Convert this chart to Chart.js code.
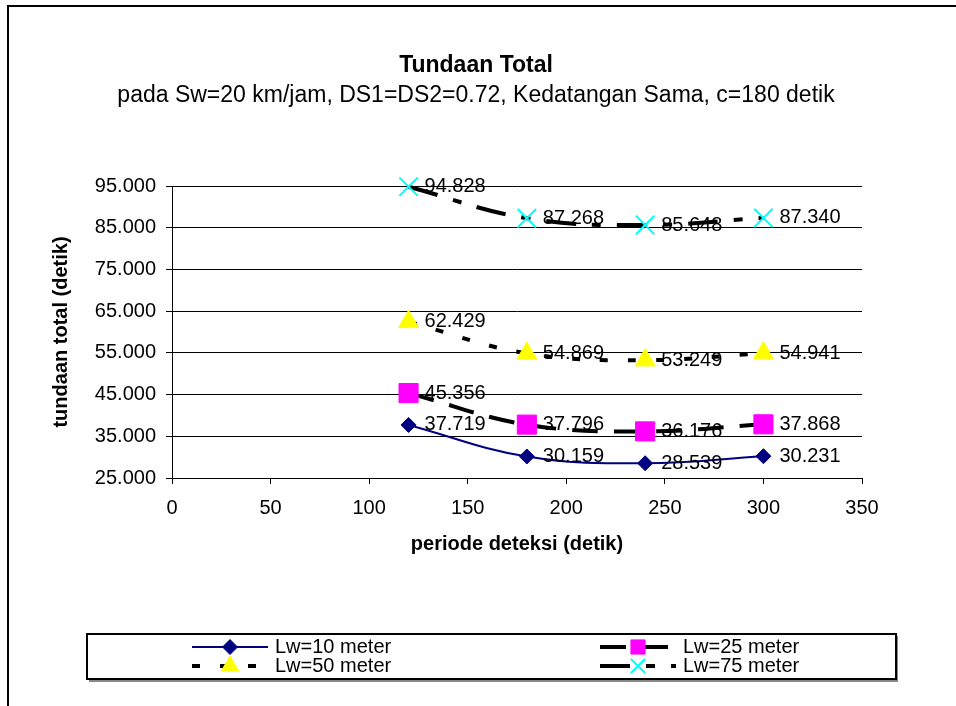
<!DOCTYPE html>
<html>
<head>
<meta charset="utf-8">
<script src="https://cdn.jsdelivr.net/npm/chart.js@4.4.1/dist/chart.umd.min.js"></script>
<style>
    html, body { margin: 0; padding: 0; background: #fff; }
</style>
</head>
<body>
<canvas id="myChart" width="956" height="706"></canvas>
<script>
// data
var periods = [120, 180, 240, 300];
var lw10 = [37.719, 30.159, 28.539, 30.231];
var lw25 = [45.356, 37.796, 36.176, 37.868];
var lw50 = [62.429, 54.869, 53.249, 54.941];
var lw75 = [94.828, 87.268, 85.648, 87.340];
var seriesNames = ['Lw=10 meter', 'Lw=25 meter', 'Lw=50 meter', 'Lw=75 meter'];
var yTicks = [25, 35, 45, 55, 65, 75, 85, 95];
var xTicks = [0, 50, 100, 150, 200, 250, 300, 350];

var titleText = 'Tundaan Total';
var subtitleText = 'pada Sw=20 km/jam, DS1=DS2=0.72, Kedatangan Sama, c=180 detik';

var fontName = '"Liberation Sans", Arial, sans-serif';
Chart.defaults.font.family = fontName;
Chart.defaults.color = '#000';

// Makes the x/y pairs for a scatter dataset
function toPoints(values) {
    return periods.map(function (p, i) {
        return { x: p, y: values[i] };
    });
}

var datasets = [
    {
        label: seriesNames[0],
        data: toPoints(lw10),
        showLine: true,
        clip: false,
        borderColor: '#000080',
        backgroundColor: '#000080',
        borderWidth: 2,
        pointStyle: 'rectRot',
        pointRadius: 7.5,
        pointBorderWidth: 1,
        tension: 0.4
    },
    {
        label: seriesNames[1],
        data: toPoints(lw25),
        showLine: true,
        clip: false,
        borderColor: '#000',
        borderWidth: 4,
        borderDash: [26, 16],
        pointStyle: 'rect',
        pointRadius: 13.5,
        pointBackgroundColor: '#ff00ff',
        pointBorderColor: '#ff00ff',
        pointBorderWidth: 1,
        tension: 0.4
    },
    {
        label: seriesNames[2],
        data: toPoints(lw50),
        showLine: true,
        clip: false,
        borderColor: '#000',
        borderWidth: 4,
        borderDash: [8, 20],
        pointStyle: 'triangle',
        pointRadius: 11.5,
        pointBackgroundColor: '#ffff00',
        pointBorderColor: '#ffff00',
        pointBorderWidth: 1,
        tension: 0.4
    },
    {
        label: seriesNames[3],
        data: toPoints(lw75),
        showLine: true,
        clip: false,
        borderColor: '#000',
        borderWidth: 4,
        borderDash: [30, 16, 9, 16],
        pointStyle: 'crossRot',
        pointRadius: 13,
        pointBorderColor: '#00ffff',
        pointBorderWidth: 2,
        tension: 0.4
    }
];

// value labels next to every point
var valueLabels = {
    id: 'valueLabels',
    afterDatasetsDraw: function (chart) {
        var ctx = chart.ctx;
        ctx.save();
        ctx.font = '20px ' + fontName;
        ctx.fillStyle = '#000';
        ctx.textAlign = 'left';
        ctx.textBaseline = 'middle';
        chart.data.datasets.forEach(function (ds, i) {
            chart.getDatasetMeta(i).data.forEach(function (pt, j) {
                ctx.fillText(ds.data[j].y.toFixed(3), pt.x + 16, pt.y);
            });
        });
        ctx.restore();
    }
};

// frame, titles and the boxed legend (2 x 2 layout like the Excel one)
var decorations = {
    id: 'decorations',
    afterDraw: function (chart) {
        var ctx = chart.ctx;
        ctx.save();

        // outer frame
        ctx.strokeStyle = '#000';
        ctx.lineWidth = 2;
        ctx.beginPath();
        ctx.moveTo(956, 6);
        ctx.lineTo(8, 6);
        ctx.lineTo(8, 706);
        ctx.stroke();

        // titles
        ctx.fillStyle = '#000';
        ctx.textAlign = 'center';
        ctx.textBaseline = 'middle';
        ctx.font = 'bold 23px ' + fontName;
        ctx.fillText(titleText, 476, 66);
        ctx.font = '23px ' + fontName;
        ctx.fillText(subtitleText, 476, 96);

        // legend box with a little shadow
        ctx.lineWidth = 2;
        ctx.strokeStyle = '#888';
        ctx.beginPath();
        ctx.moveTo(897, 636);
        ctx.lineTo(897, 681);
        ctx.lineTo(89, 681);
        ctx.stroke();
        ctx.strokeStyle = '#000';
        ctx.strokeRect(87, 634, 809, 45);

        var slots = [
            { x: 192, y: 647 },
            { x: 600, y: 647 },
            { x: 192, y: 666 },
            { x: 600, y: 666 }
        ];
        chart.data.datasets.forEach(function (ds, i) {
            var s = slots[i];
            ctx.save();
            ctx.strokeStyle = ds.borderColor;
            ctx.lineWidth = ds.borderWidth;
            ctx.setLineDash(ds.borderDash || []);
            ctx.beginPath();
            ctx.moveTo(s.x, s.y);
            ctx.lineTo(s.x + 76, s.y);
            ctx.stroke();
            ctx.restore();

            ctx.save();
            ctx.fillStyle = ds.pointBackgroundColor || ds.backgroundColor;
            ctx.strokeStyle = ds.pointBorderColor || ds.borderColor;
            ctx.lineWidth = ds.pointBorderWidth;
            Chart.helpers.drawPoint(ctx, {
                pointStyle: ds.pointStyle,
                radius: Math.min(ds.pointRadius, 10),
                rotation: 0,
                borderWidth: ds.pointBorderWidth
            }, s.x + 38, s.y);
            ctx.restore();

            ctx.fillStyle = '#000';
            ctx.textAlign = 'left';
            ctx.textBaseline = 'middle';
            ctx.font = '20px ' + fontName;
            ctx.fillText(ds.label, s.x + 83, s.y);
        });

        ctx.restore();
    }
};

var ctx = document.getElementById('myChart').getContext('2d');
var myChart = new Chart(ctx, {
    type: 'scatter',
    data: { datasets: datasets },
    plugins: [valueLabels, decorations],
    options: {
        responsive: false,
        animation: false,
        devicePixelRatio: 1,
        layout: {
            padding: { left: 49, right: 94, top: 186, bottom: 146 }
        },
        plugins: {
            legend: { display: false },
            tooltip: { enabled: false }
        },
        scales: {
            x: {
                type: 'linear',
                min: xTicks[0],
                max: xTicks[xTicks.length - 1],
                afterFit: function (scale) { scale.height = 82; },
                ticks: {
                    stepSize: xTicks[1] - xTicks[0],
                    padding: 12,
                    font: { size: 20 },
                    color: '#000'
                },
                grid: { drawOnChartArea: false, color: '#000', tickLength: 6 },
                border: { color: '#000', width: 1 },
                title: {
                    display: true,
                    text: 'periode deteksi (detik)',
                    font: { size: 20, weight: 'bold' },
                    color: '#000',
                    padding: { top: 0, bottom: 4 }
                }
            },
            y: {
                type: 'linear',
                min: yTicks[0],
                max: yTicks[yTicks.length - 1],
                afterFit: function (scale) { scale.width = 123; },
                ticks: {
                    stepSize: yTicks[1] - yTicks[0],
                    padding: 10,
                    font: { size: 20 },
                    color: '#000',
                    callback: function (value) { return value.toFixed(3); }
                },
                grid: { color: '#000', tickLength: 6 },
                border: { color: '#000', width: 1 },
                title: {
                    display: true,
                    text: 'tundaan total (detik)',
                    font: { size: 20, weight: 'bold' },
                    color: '#000',
                    padding: { top: 0, bottom: 0 }
                }
            }
        }
    }
});
</script>
</body>
</html>
